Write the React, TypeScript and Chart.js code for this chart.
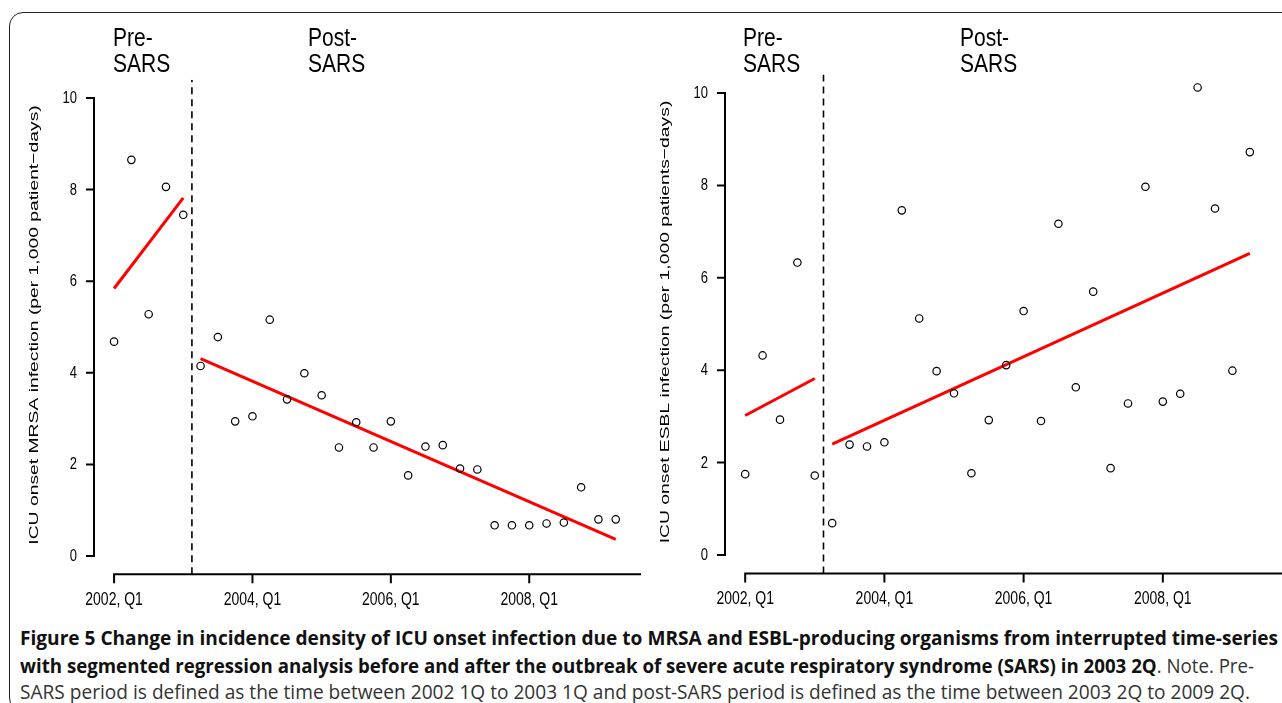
import React, { useEffect, useLayoutEffect, useRef } from "react";
import { Chart, registerables } from "chart.js";

Chart.register(...registerables);

// ---------------- data ----------------
const quarterLabels = [
  "2002 Q1", "2002 Q2", "2002 Q3", "2002 Q4",
  "2003 Q1", "2003 Q2", "2003 Q3", "2003 Q4",
  "2004 Q1", "2004 Q2", "2004 Q3", "2004 Q4",
  "2005 Q1", "2005 Q2", "2005 Q3", "2005 Q4",
  "2006 Q1", "2006 Q2", "2006 Q3", "2006 Q4",
  "2007 Q1", "2007 Q2", "2007 Q3", "2007 Q4",
  "2008 Q1", "2008 Q2", "2008 Q3", "2008 Q4",
  "2009 Q1", "2009 Q2",
];

const mrsaValues = [
  4.68, 8.65, 5.28, 8.06, 7.45, 4.15, 4.78, 2.94, 3.05, 5.16,
  3.42, 3.99, 3.51, 2.37, 2.92, 2.37, 2.94, 1.76, 2.39, 2.42,
  1.91, 1.89, 0.67, 0.67, 0.67, 0.71, 0.73, 1.5, 0.8, 0.8,
];

const esblValues = [
  1.75, 4.32, 2.93, 6.33, 1.72, 0.69, 2.39, 2.35, 2.44, 7.46,
  5.12, 3.98, 3.5, 1.77, 2.92, 4.11, 5.28, 2.9, 7.17, 3.63,
  5.7, 1.88, 3.28, 7.97, 3.32, 3.49, 10.12, 7.5, 3.99, 8.72,
];

// fitted segmented-regression lines (start, end)
const preFitQuarters = ["2002 Q1", "2003 Q1"];
const postFitQuarters = ["2003 Q2", "2009 Q2"];
const mrsaPreFit = [5.84, 7.82];
const mrsaPostFit = [4.31, 0.36];
const esblPreFit = [3.02, 3.82];
const esblPostFit = [2.4, 6.53];

// interruption between these quarters
const interruptionQuarters = ["2003 Q1", "2003 Q2"];

const xTickQuarters = ["2002 Q1", "2004 Q1", "2006 Q1", "2008 Q1"];
const xTickLabels = ["2002, Q1", "2004, Q1", "2006, Q1", "2008, Q1"];
const yTickValues = [0, 2, 4, 6, 8, 10];

const mrsaTitle = "ICU onset MRSA infection (per 1,000 patient\u2212days)";
const esblTitle = "ICU onset ESBL infection (per 1,000 patients\u2212days)";

const captionBold1 =
  "Figure 5 Change in incidence density of ICU onset infection due to MRSA and ESBL-producing organisms from interrupted time-series";
const captionBold2 =
  "with segmented regression analysis before and after the outbreak of severe acute respiratory syndrome (SARS) in 2003 2Q";
const captionNormal2 = ". Note. Pre-";
const captionNormal3 =
  "SARS period is defined as the time between 2002 1Q to 2003 1Q and post-SARS period is defined as the time between 2003 2Q to 2009 2Q.";

// ---------------- layout ----------------
const CANVAS_W = 641;
const CANVAS_H = 622;
const FONT = "'Liberation Sans', Arial, Helvetica, sans-serif";
const STRETCH_Y = 1.25; // the figure is slightly stretched vertically

const qIndex = (q: string) => quarterLabels.indexOf(q);

type PanelSpec = {
  left: number;
  values: number[];
  preFit: number[];
  postFit: number[];
  title: string;
  area: { left: number; right: number; top: number; bottom: number };
  periodLabels: { lines: string[]; x: number }[];
};

const panels: PanelSpec[] = [
  {
    left: 0,
    values: mrsaValues,
    preFit: mrsaPreFit,
    postFit: mrsaPostFit,
    title: mrsaTitle,
    area: { left: 94, right: 638.5, top: 79.7, bottom: 574.3 },
    periodLabels: [
      { lines: ["Pre-", "SARS"], x: 113 },
      { lines: ["Post-", "SARS"], x: 308 },
    ],
  },
  {
    left: 641,
    values: esblValues,
    preFit: esblPreFit,
    postFit: esblPostFit,
    title: esblTitle,
    area: { left: 84, right: 629, top: 74.5, bottom: 573.5 },
    periodLabels: [
      { lines: ["Pre-", "SARS"], x: 102 },
      { lines: ["Post-", "SARS"], x: 319 },
    ],
  },
];

function stretchedText(ctx: CanvasRenderingContext2D, text: string, x: number, y: number, sy: number) {
  ctx.save();
  ctx.translate(x, y);
  ctx.scale(1, sy);
  ctx.fillText(text, 0, 0);
  ctx.restore();
}

const rAxesPlugin = (spec: PanelSpec) => ({
  id: "rAxes",
  afterDraw(chart: any) {
    const { ctx, chartArea } = chart;
    const xs = chart.scales.x;
    const ys = chart.scales.y;
    ctx.save();
    ctx.strokeStyle = "#000";
    ctx.fillStyle = "#000";
    ctx.lineWidth = 2;
    ctx.lineJoin = "miter";
    ctx.lineCap = "butt";

    // y axis (from first to last tick)
    const ax = chartArea.left;
    const yFirst = ys.getPixelForValue(yTickValues[0]);
    const yLast = ys.getPixelForValue(yTickValues[yTickValues.length - 1]);
    const tl = 8;
    ctx.beginPath();
    ctx.moveTo(ax - tl, yLast);
    ctx.lineTo(ax, yLast);
    ctx.lineTo(ax, yFirst);
    ctx.lineTo(ax - tl, yFirst);
    ctx.stroke();
    ctx.beginPath();
    for (let i = 1; i < yTickValues.length - 1; i++) {
      const y = ys.getPixelForValue(yTickValues[i]);
      ctx.moveTo(ax - tl, y);
      ctx.lineTo(ax, y);
    }
    ctx.stroke();
    ctx.font = `13px ${FONT}`;
    ctx.textAlign = "right";
    ctx.textBaseline = "middle";
    yTickValues.forEach((v) => {
      stretchedText(ctx, String(v), ax - 17, ys.getPixelForValue(v) + 0.5, STRETCH_Y);
    });

    // x axis (from first tick to the edge of the figure)
    const ay = chartArea.bottom;
    const x0 = xs.getPixelForValue(qIndex(xTickQuarters[0]));
    const xEnd = xs.getPixelForValue(32);
    const xl = 9;
    ctx.beginPath();
    ctx.moveTo(x0, ay + xl);
    ctx.lineTo(x0, ay);
    ctx.lineTo(xEnd, ay);
    ctx.stroke();
    ctx.beginPath();
    for (let i = 1; i < xTickQuarters.length; i++) {
      const x = xs.getPixelForValue(qIndex(xTickQuarters[i]));
      ctx.moveTo(x, ay);
      ctx.lineTo(x, ay + xl);
    }
    ctx.stroke();
    ctx.font = `14px ${FONT}`;
    ctx.textAlign = "center";
    ctx.textBaseline = "middle";
    xTickQuarters.forEach((q, i) => {
      stretchedText(ctx, xTickLabels[i], xs.getPixelForValue(qIndex(q)), ay + 26, STRETCH_Y);
    });

    // y axis title (stretched along its length)
    ctx.save();
    ctx.translate(ax - 59.5, (chartArea.top + chartArea.bottom) / 2 - 2);
    ctx.rotate(-Math.PI / 2);
    ctx.scale(1.43, 1);
    ctx.font = `13.5px ${FONT}`;
    ctx.textAlign = "center";
    ctx.textBaseline = "middle";
    ctx.fillText(spec.title, 0, 0);
    ctx.restore();

    // period labels
    ctx.font = `21px ${FONT}`;
    ctx.textAlign = "left";
    ctx.textBaseline = "alphabetic";
    spec.periodLabels.forEach((p) => {
      p.lines.forEach((line, i) => {
        stretchedText(ctx, line, p.x, 46 + i * 26, STRETCH_Y);
      });
    });
    ctx.restore();
  },
});

function Panel({ spec }: { spec: PanelSpec }) {
  const ref = useRef<HTMLCanvasElement>(null);
  useEffect(() => {
    const canvas = ref.current!;
    const cut =
      (qIndex(interruptionQuarters[0]) + qIndex(interruptionQuarters[1])) / 2;
    const yMin = -0.4;
    const yMax = 10.4;
    const xMin = -0.04 * 29;
    const xMax = 29 + 0.04 * 29;
    const chart = new Chart(canvas, {
      type: "scatter",
      data: {
        datasets: [
          {
            label: "interruption",
            data: [
              { x: cut, y: yMin },
              { x: cut, y: yMax },
            ],
            showLine: true,
            borderColor: "#000",
            borderWidth: 1.6,
            borderDash: [7, 5],
            pointRadius: 0,
          },
          {
            label: "observed",
            data: spec.values.map((v, i) => ({ x: i, y: v })),
            showLine: false,
            pointStyle: "circle",
            pointRadius: 3.7,
            pointBorderWidth: 1.2,
            pointBorderColor: "#000",
            pointBackgroundColor: "rgba(255,255,255,0)",
          },
          {
            label: "pre fit",
            data: preFitQuarters.map((q, i) => ({ x: qIndex(q), y: spec.preFit[i] })),
            showLine: true,
            borderColor: "#ff0000",
            borderWidth: 3,
            pointRadius: 0,
          },
          {
            label: "post fit",
            data: postFitQuarters.map((q, i) => ({ x: qIndex(q), y: spec.postFit[i] })),
            showLine: true,
            borderColor: "#ff0000",
            borderWidth: 3,
            pointRadius: 0,
          },
        ],
      },
      options: {
        responsive: false,
        animation: false,
        devicePixelRatio: 1,
        layout: {
          padding: {
            left: spec.area.left,
            right: CANVAS_W - spec.area.right,
            top: spec.area.top,
            bottom: CANVAS_H - spec.area.bottom,
          },
        },
        scales: {
          x: { type: "linear", min: xMin, max: xMax, display: false },
          y: { type: "linear", min: yMin, max: yMax, display: false },
        },
        plugins: {
          legend: { display: false },
          tooltip: { enabled: false },
        },
        events: [],
      },
      plugins: [rAxesPlugin(spec)],
    } as any);
    return () => chart.destroy();
  }, [spec]);
  return (
    <canvas
      ref={ref}
      width={CANVAS_W}
      height={CANVAS_H}
      style={{ position: "absolute", left: spec.left, top: 0, width: CANVAS_W, height: CANVAS_H }}
    />
  );
}

const captionTargets = [1258, 1234, 1230];
const captionTops = [624, 652, 678];

function Caption() {
  const r1 = useRef<HTMLDivElement>(null);
  const r2 = useRef<HTMLDivElement>(null);
  const r3 = useRef<HTMLDivElement>(null);
  useLayoutEffect(() => {
    const fit = () => {
      [r1, r2, r3].forEach((r, i) => {
        const el = r.current;
        if (!el) return;
        el.style.transform = "none";
        const w = el.getBoundingClientRect().width;
        if (w > 0) el.style.transform = `scaleX(${captionTargets[i] / w})`;
      });
    };
    fit();
    if ((document as any).fonts && (document as any).fonts.ready) {
      (document as any).fonts.ready.then(fit);
    }
  }, []);
  const base: React.CSSProperties = {
    position: "absolute",
    left: 20,
    whiteSpace: "nowrap",
    display: "inline-block",
    fontFamily: "'Open Sans', 'Noto Sans', sans-serif",
    fontSize: 19.5,
    lineHeight: "27px",
    color: "#111",
    transformOrigin: "0 0",
  };
  return (
    <>
      <div ref={r1} style={{ ...base, top: captionTops[0], fontWeight: 700 }}>
        {captionBold1}
      </div>
      <div ref={r2} style={{ ...base, top: captionTops[1] }}>
        <span style={{ fontWeight: 700 }}>{captionBold2}</span>
        <span style={{ fontWeight: 400, color: "#333" }}>{captionNormal2}</span>
      </div>
      <div ref={r3} style={{ ...base, top: captionTops[2], fontWeight: 400, color: "#333" }}>
        {captionNormal3}
      </div>
    </>
  );
}

export default function App() {
  return (
    <div
      style={{
        position: "absolute",
        left: 0,
        top: 0,
        width: 1282,
        height: 703,
        overflow: "hidden",
        background: "#fff",
      }}
    >
      <div
        style={{
          position: "absolute",
          left: 9,
          top: 12,
          width: 1300,
          height: 700,
          border: "1.5px solid #222",
          borderRadius: 14,
          boxSizing: "border-box",
        }}
      />
      {panels.map((p, i) => (
        <Panel key={i} spec={p} />
      ))}
      <Caption />
    </div>
  );
}
